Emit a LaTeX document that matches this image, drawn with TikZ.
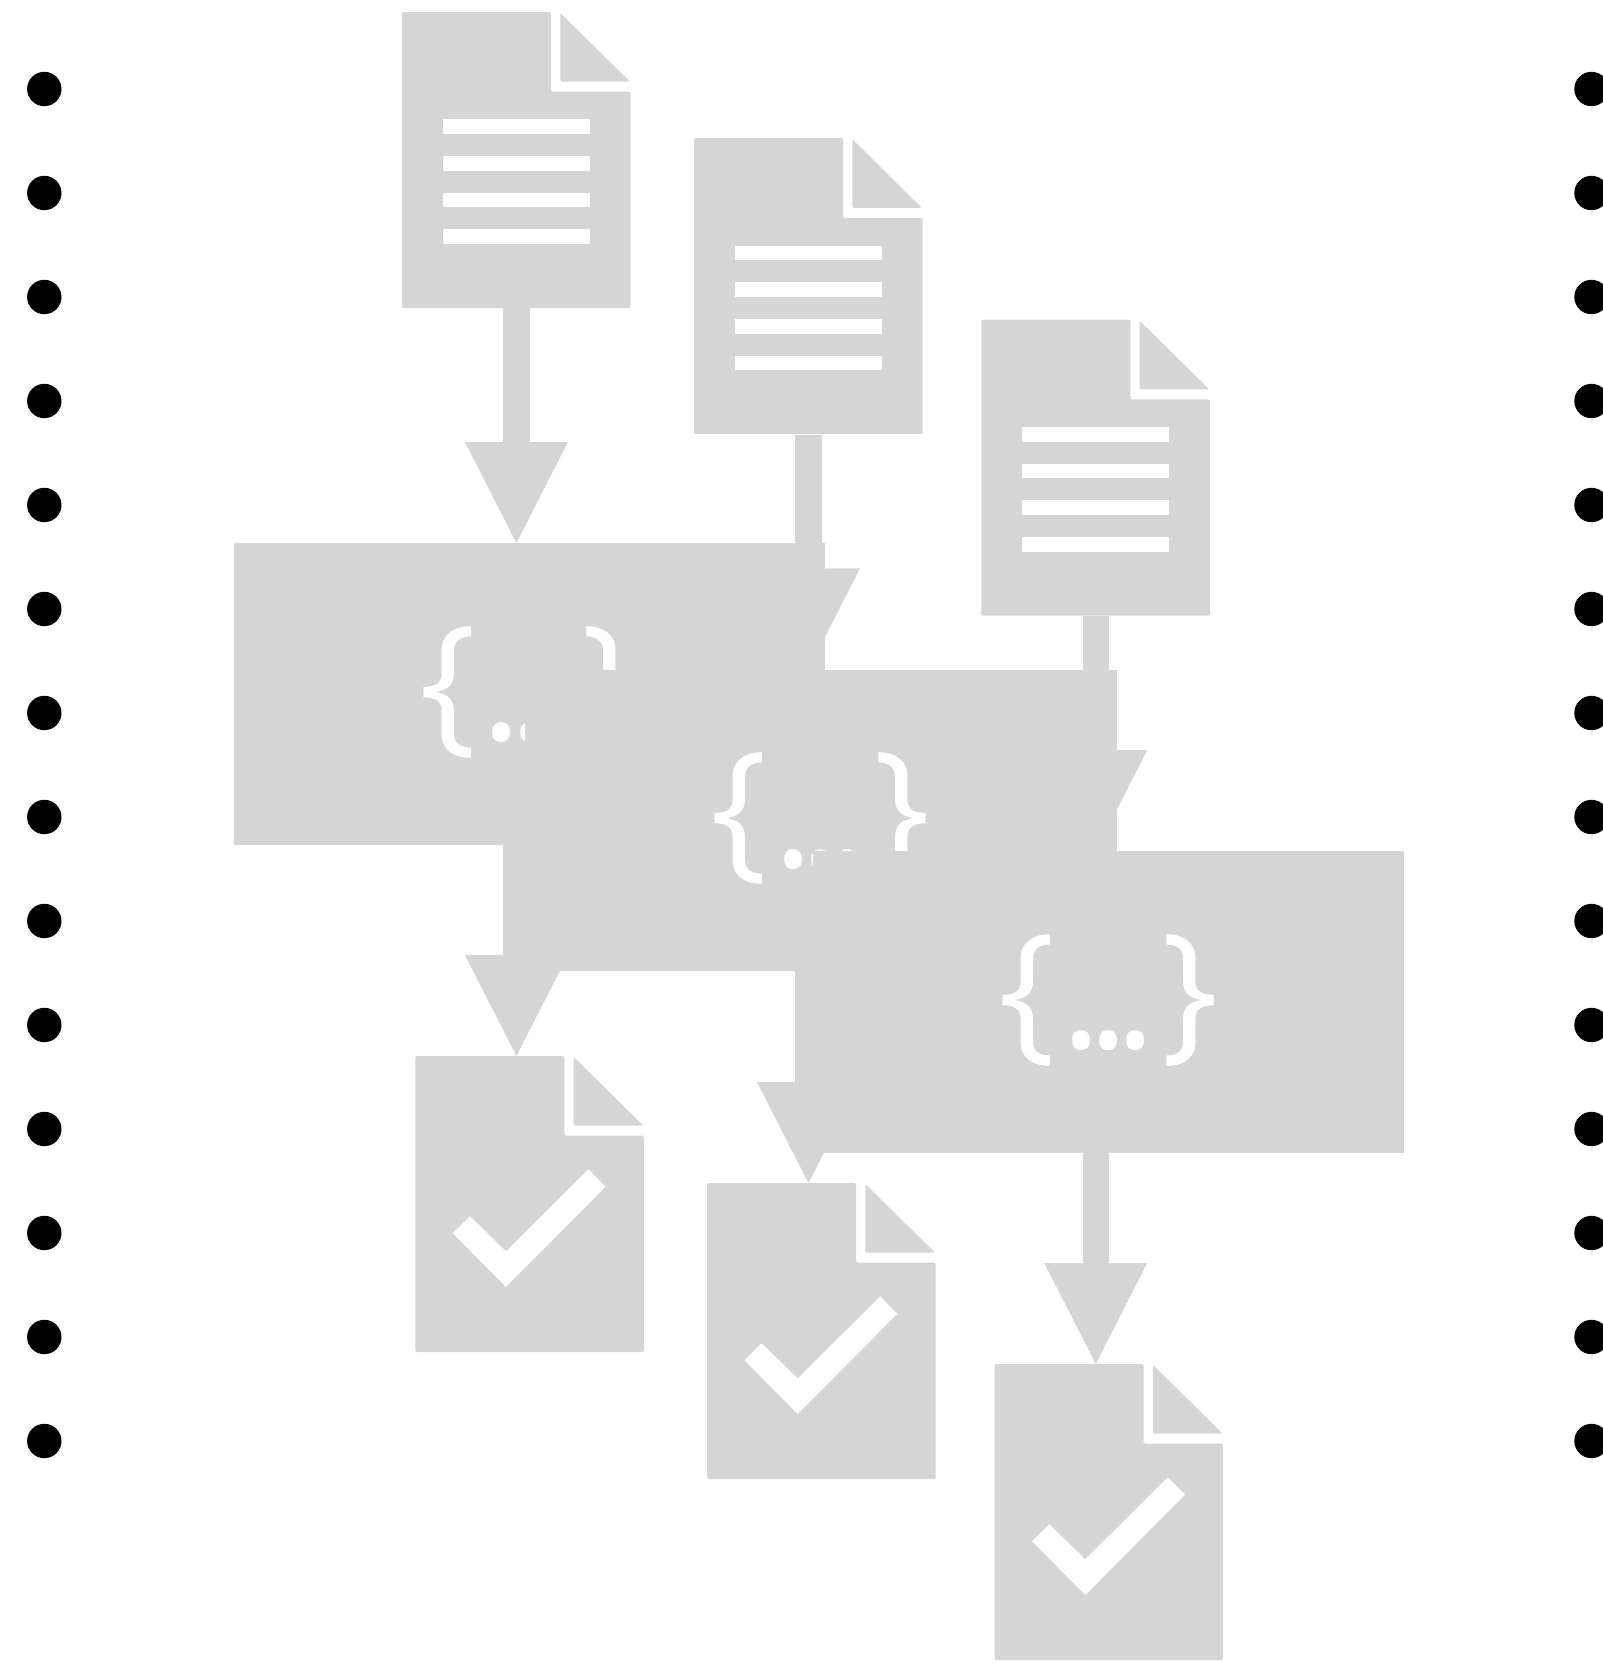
\documentclass[tikz,border=0pt]{standalone}
\usepackage{fontspec}
\setmainfont{Open Sans}
\usetikzlibrary{arrows.meta}
\definecolor{pale}{HTML}{D5D5D5}
\tikzset{
  sheet/.style={fill=pale,draw=none,rounded corners=1.5pt},
  rulewhite/.style={fill=white,draw=none},
  docframe/.style={draw=none,fill=none,inner sep=0pt,minimum width=228.5pt,minimum height=296pt,anchor=north west},
  codebox/.style={fill=pale,draw=none,inner sep=0pt,minimum width=591.2pt,minimum height=301.5pt,anchor=north west,text=white,font=\fontsize{151pt}{151pt}\selectfont},
  blockarrow/.style={draw=pale,line width=26.5pt,line cap=butt,-{Triangle[length=101pt,width=103pt,line width=0pt,fill=pale]}},
  blackdot/.style={circle,fill=black,draw=none,inner sep=0pt,minimum size=34.4pt}
}
\newcommand{\pagebase}[1]{%
  \begin{scope}[shift={(#1)}]
    \fill[sheet] (0,0) -- (149,0) -- (149,79.7) -- (228.5,79.7) -- (228.5,296) -- (0,296) -- cycle;
    \fill[sheet] (158.3,1) -- (228,69.7) -- (158.3,69.7) -- cycle;
  \end{scope}}
\newcommand{\inputdoc}[2]{%
  \pagebase{#2}
  \node[docframe] (#1) at (#2) {};
  \begin{scope}[shift={(#2)}]
    \foreach \yy in {107.3,144,180.7,217.3}
      \fill[rulewhite] (40.7,\yy) rectangle (188,\yy+14.7);
  \end{scope}}
\newcommand{\outputdoc}[2]{%
  \pagebase{#2}
  \node[docframe] (#1) at (#2) {};
  \begin{scope}[shift={(#2)}]
    \fill[rulewhite] (173,113.3) -- (190.3,130.7) -- (90.6,231) -- (37.3,177.3) -- (54.6,160.3) -- (90.6,195.3) -- cycle;
  \end{scope}}
\newcommand{\jsontext}{\vphantom{\}}\raisebox{1.6pt}{\smash{\{\kern5.5pt\raisebox{-6.5pt}{.\kern-13pt.\kern-13pt.}\kern5.5pt\}}}}
\begin{document}
\begin{tikzpicture}[x=1pt,y=-1pt]
\clip (0,0) rectangle (1603,1663);
\foreach \i in {0,...,13} {
  \node[blackdot] (l\i) at (44.3,89+104*\i) {};
  \node[blackdot] (r\i) at (1591.5,89+104*\i) {};
}
% group 1
\inputdoc{in1}{402,12}
\node[codebox] (box1) at (233.4,543) {\jsontext};
\draw[blockarrow] (in1.south) -- (in1.south |- box1.north);
\outputdoc{out1}{415.4,1056}
\draw[blockarrow] (in1.south |- box1.south) -- (in1.south |- out1.north);
% group 2
\inputdoc{in2}{694,138.2}
\node[codebox] (box2) at (525.1,669.4) {\jsontext};
\draw[blockarrow] (in2.south) -- (in2.south |- box2.north);
\outputdoc{out2}{707.1,1183}
\draw[blockarrow] (in2.south |- box2.south) -- (in2.south |- out2.north);
% group 3
\inputdoc{in3}{981.3,319.7}
\node[codebox] (box3) at (812.7,851) {\jsontext};
\draw[blockarrow] (in3.south) -- (in3.south |- box3.north);
\outputdoc{out3}{994.7,1364}
\draw[blockarrow] (in3.south |- box3.south) -- (in3.south |- out3.north);
\end{tikzpicture}
\end{document}
